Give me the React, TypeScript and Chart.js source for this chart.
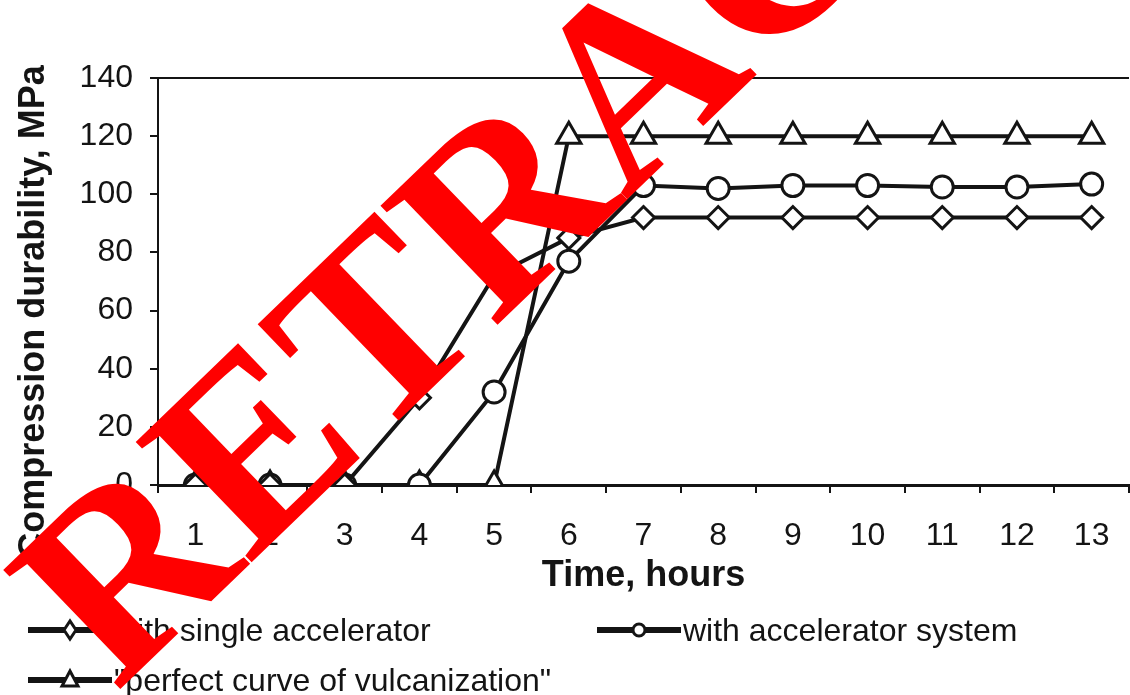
import React, { useEffect, useRef } from 'react';
import { Chart, registerables } from 'chart.js';

Chart.register(...registerables);

// ---- data ----
const hours = ['1', '2', '3', '4', '5', '6', '7', '8', '9', '10', '11', '12', '13'];
const singleAccelerator = [0, 0, 0, 30, 72, 85, 92, 92, 92, 92, 92, 92, 92];
const acceleratorSystem = [0, 0, 0, 0, 32, 77, 103, 102, 103, 103, 102.5, 102.5, 103.5];
const perfectCurve = [0, 0, 0, 0, 0, 120, 120, 120, 120, 120, 120, 120, 120];
const seriesLabels = ['with single accelerator', 'with accelerator system', '"perfect curve of vulcanization"'];
const yMin = 0;
const yMax = 140;
const yStep = 20;
const xTitle = 'Time, hours';
const yTitle = 'Compression durability, MPa';
const watermark = 'RETRACTED';

const FONT = "'Liberation Sans', Arial, sans-serif";
const INK = '#141414';

const yTitlePlugin = {
  id: 'yTitlePlugin',
  afterDraw(chart: any) {
    const ctx = chart.ctx;
    ctx.save();
    ctx.translate(34, 312);
    ctx.rotate(-Math.PI / 2);
    ctx.font = `bold 36px ${FONT}`;
    ctx.fillStyle = INK;
    ctx.textAlign = 'center';
    ctx.textBaseline = 'middle';
    ctx.fillText(yTitle, 0, 0);
    ctx.restore();
  },
};

function Symbol({ kind }: { kind: string }) {
  const cx = 42;
  let marker: any = null;
  if (kind === 'diamond') {
    marker = <polygon points={`${cx - 6},15 ${cx},6 ${cx + 6},15 ${cx},24`} fill="#fff" stroke={INK} strokeWidth={3} />;
  } else if (kind === 'circle') {
    marker = <circle cx={cx} cy={15} r={6} fill="#fff" stroke={INK} strokeWidth={3} />;
  } else {
    marker = <polygon points={`${cx},6 ${cx + 8},21 ${cx - 8},21`} fill="#fff" stroke={INK} strokeWidth={3} />;
  }
  return (
    <svg width={84} height={30} style={{ display: 'block' }}>
      <line x1={0} y1={15} x2={84} y2={15} stroke={INK} strokeWidth={6} />
      {marker}
    </svg>
  );
}

function LegendItem({ left, top, kind, text }: { left: number; top: number; kind: string; text: string }) {
  return (
    <div
      style={{
        position: 'absolute',
        left,
        top: top - 20,
        height: 40,
        display: 'flex',
        alignItems: 'center',
        whiteSpace: 'nowrap',
        font: `32px ${FONT}`,
        color: INK,
      }}
    >
      <Symbol kind={kind} />
      <span style={{ marginLeft: 2 }}>{text}</span>
    </div>
  );
}

export default function App() {
  const canvasRef = useRef<HTMLCanvasElement | null>(null);

  useEffect(() => {
    if (!canvasRef.current) return;
    const common = {
      borderColor: INK,
      borderWidth: 4,
      pointBackgroundColor: '#ffffff',
      pointBorderColor: INK,
      pointBorderWidth: 3,
      tension: 0,
      fill: false,
    };
    const chart = new Chart(canvasRef.current, {
      type: 'line',
      data: {
        labels: hours,
        datasets: [
          { ...common, label: seriesLabels[0], data: singleAccelerator, pointStyle: 'rectRot', pointRadius: 11 },
          { ...common, label: seriesLabels[1], data: acceleratorSystem, pointStyle: 'circle', pointRadius: 11 },
          { ...common, label: seriesLabels[2], data: perfectCurve, pointStyle: 'triangle', pointRadius: 14 },
        ],
      },
      options: {
        animation: false,
        responsive: true,
        maintainAspectRatio: false,
        layout: { autoPadding: false, padding: { top: 78, bottom: 97, left: 0, right: 1 } },
        plugins: { legend: { display: false }, tooltip: { enabled: false } },
        scales: {
          x: {
            type: 'category',
            offset: true,
            grid: { offset: true, drawOnChartArea: false, drawTicks: true, tickLength: 8, color: INK, lineWidth: 2 },
            border: { display: true, color: INK, width: 3 },
            ticks: { font: { family: FONT, size: 32 }, color: INK, padding: 24, maxRotation: 0, autoSkip: false },
            title: { display: true, text: xTitle, font: { family: FONT, size: 36, weight: 'bold' }, color: INK, padding: 0 },
            afterFit: (s: any) => {
              s.height = 113;
              s.paddingLeft = 0;
              s.paddingRight = 0;
            },
          },
          y: {
            min: yMin,
            max: yMax,
            ticks: { stepSize: yStep, font: { family: FONT, size: 32 }, color: INK, padding: 17 },
            grid: {
              color: (c: any) => (c.tick && c.tick.value === yMax ? INK : 'rgba(0,0,0,0)'),
              tickColor: INK,
              lineWidth: 2,
              tickLength: 8,
            },
            border: { display: true, color: INK, width: 2 },
            title: { display: false, text: yTitle },
            afterFit: (s: any) => {
              s.width = 158;
            },
          },
        },
      } as any,
      plugins: [yTitlePlugin],
    });
    return () => chart.destroy();
  }, []);

  return (
    <div
      style={{
        position: 'fixed',
        left: 0,
        top: 0,
        width: 1130,
        height: 695,
        overflow: 'hidden',
        background: '#ffffff',
      }}
    >
      <div style={{ position: 'absolute', left: 0, top: 0, width: 1130, height: 695 }}>
        <canvas ref={canvasRef} />
      </div>
      <LegendItem left={28} top={630} kind="diamond" text={seriesLabels[0]} />
      <LegendItem left={597} top={630} kind="circle" text={seriesLabels[1]} />
      <LegendItem left={28} top={680} kind="triangle" text={seriesLabels[2]} />
      <div
        style={{
          position: 'absolute',
          left: -32,
          top: 540,
          transform: 'rotate(-44deg)',
          transformOrigin: '0 0',
          font: `bold 255px 'Liberation Serif', 'Times New Roman', serif`,
          lineHeight: '255px',
          color: '#ff0000',
          whiteSpace: 'nowrap',
          pointerEvents: 'none',
        }}
      >
        {watermark}
      </div>
    </div>
  );
}
